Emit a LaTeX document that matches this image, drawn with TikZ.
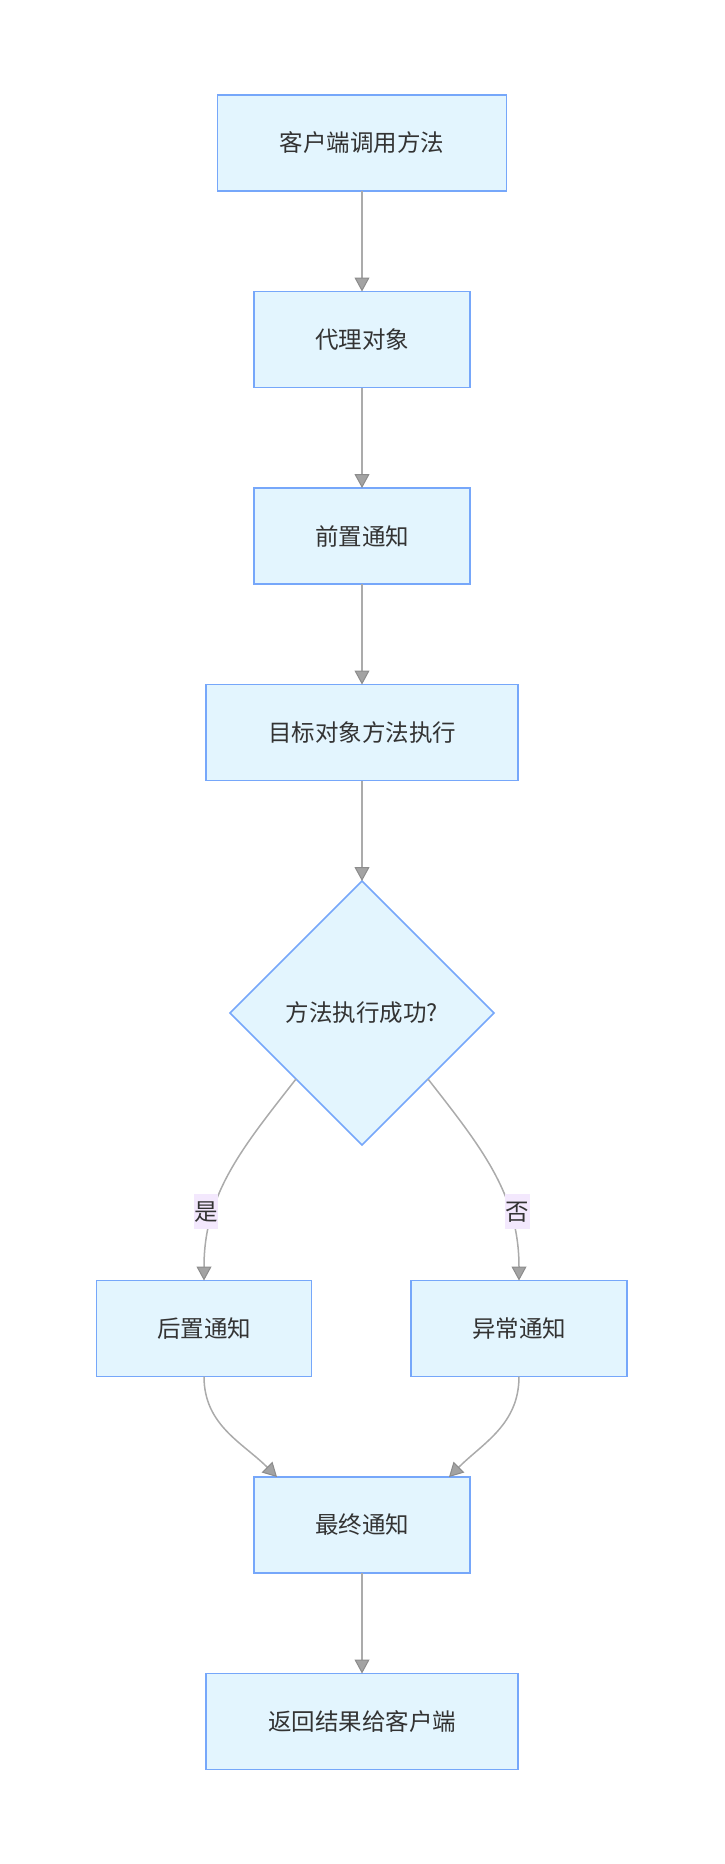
\documentclass[tikz,border=0pt]{standalone}
\usepackage{fontspec}
\usepackage{xcolor}
\usepackage{tikz}
\usetikzlibrary{shapes.geometric, arrows.meta, positioning}
\newfontfamily\cjk{Noto Sans CJK SC}
\definecolor{boxfill}{HTML}{E3F5FE}
\definecolor{boxline}{HTML}{76A7FA}
\definecolor{linegray}{HTML}{ABABAB}
\definecolor{tipgray}{HTML}{A3A3A3}
\definecolor{tipline}{HTML}{8C8C8C}
\definecolor{labelbg}{HTML}{F3E8FD}
\definecolor{textgray}{HTML}{333333}

\begin{document}
\begin{tikzpicture}[
    node distance=100.5pt,
    font=\cjk\fontsize{23.5}{28}\selectfont,
    box/.style={rectangle, draw=boxline, line width=1.8pt, outer sep=0pt, fill=boxfill, text=textgray, minimum width=216pt, minimum height=96pt, align=center},
    decision/.style={diamond, draw=boxline, line width=1.5pt, outer sep=0pt, fill=boxfill, text=textgray, minimum width=264pt, minimum height=264pt, inner sep=0pt},
    arrow/.style={draw=linegray, line width=1.5pt, -{Triangle[width=15pt, length=14pt, color=tipline, fill=tipgray, line width=1pt]}},
    edgelabel/.style={fill=labelbg, text=textgray, inner xsep=0.5pt, inner ysep=0pt, minimum height=35pt}
]
    \useasboundingbox (0,0) rectangle (724pt,-1864pt);

    % Nodes
    \node[box, minimum width=289pt] (client) at (362pt,-143pt) {客户端调用方法};
    \node[box, below=of client] (proxy) {代理对象};
    \node[box, below=of proxy] (before) {前置通知};
    \node[box, minimum width=312pt, below=of before] (target) {目标对象方法执行};
    \node[decision, below=of target] (check) {方法执行成功?};
    \node[box, minimum width=215pt, below=135.5pt of check, xshift=-158pt] (after) {后置通知};
    \node[box, below=135.5pt of check, xshift=157pt] (error) {异常通知};
    \node[box, below=332pt of check] (final) {最终通知};
    \node[box, minimum width=312pt, below=of final] (result) {返回结果给客户端};
    \coordinate (finL) at ([xshift=23pt]final.north west);
    \coordinate (finR) at ([xshift=-21pt]final.north east);

    % Arrows
    \draw[arrow] (client) -- (proxy);
    \draw[arrow] (proxy) -- (before);
    \draw[arrow] (before) -- (target);
    \draw[arrow] (target) -- (check);
    \draw[arrow] (check.south west) to[out=-128, in=90] node[edgelabel, pos=0.7, xshift=-8pt] {是} (after.north);
    \draw[arrow] (check.south east) to[out=-52, in=90] node[edgelabel, pos=0.7, xshift=8pt] {否} (error.north);
    \draw[arrow] (after.south) to[out=-90, in=135] (finL);
    \draw[arrow] (error.south) to[out=-90, in=45] (finR);
    \draw[arrow] (final) -- (result);
\end{tikzpicture}
\end{document}
